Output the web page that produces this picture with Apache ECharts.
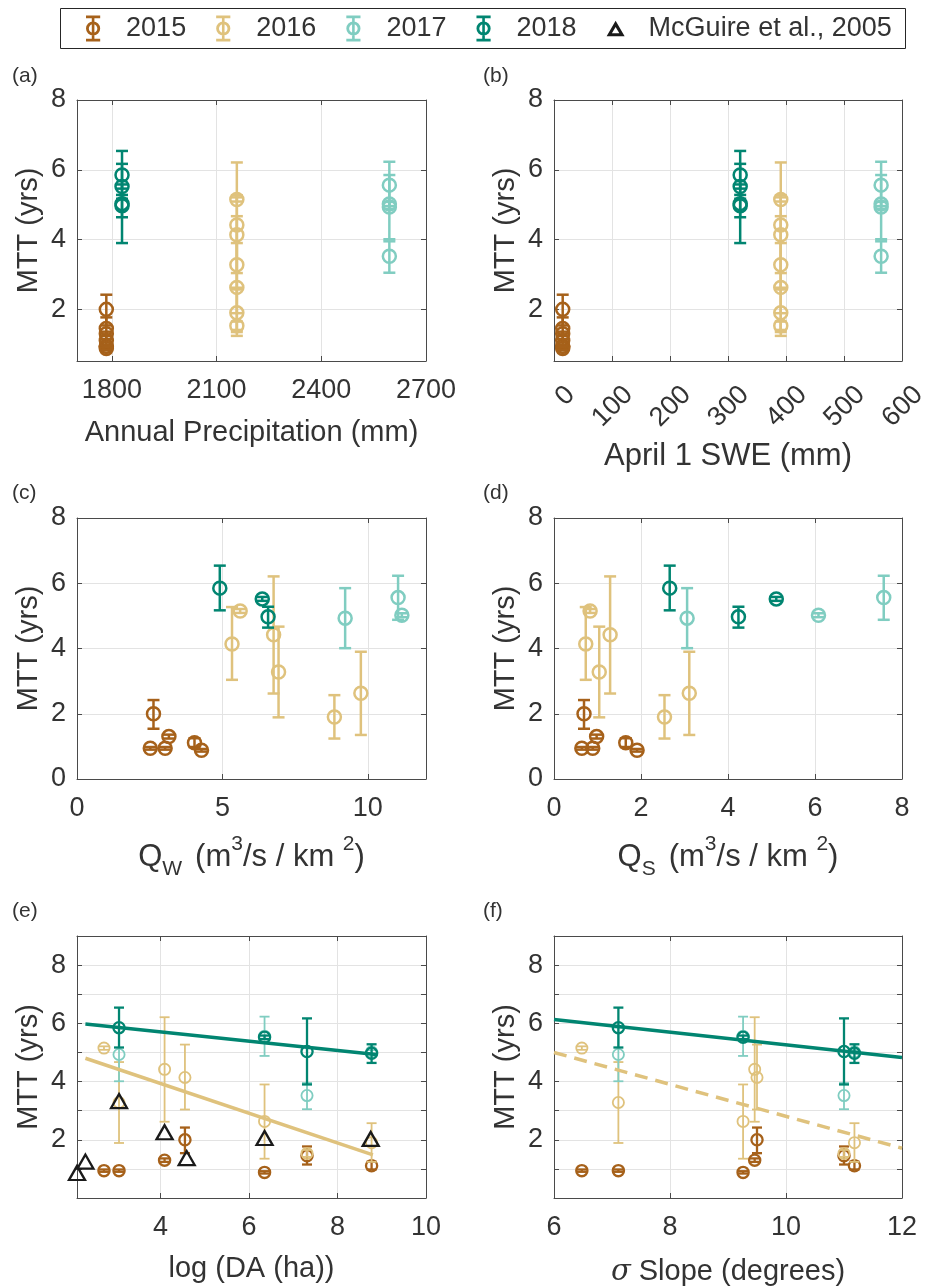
<!DOCTYPE html>
<html><head><meta charset="utf-8">
<script src="https://cdn.jsdelivr.net/npm/echarts@6/dist/echarts.min.js"></script>
<style>html,body{margin:0;padding:0;background:#fff}#c{width:934px;height:1286px}</style>
</head><body><div id="c"></div>
<script>
// ---------------- DATA ----------------
const years = ['2015', '2016', '2017', '2018'];
// site order for 2015/2016: S1..S7 ; for 2017/2018: S2,S5,S6,S7
const siteIdx2015 = [0, 1, 2, 3, 4, 5, 6];
const siteIdx2016 = [0, 1, 2, 3, 4, 5, 6];
const siteIdx2017 = [1, 4, 5, 6];
const siteIdx2018 = [1, 4, 5, 6];

const mtt2015 = [0.94, 0.94, 1.30, 2.00, 0.88, 1.45, 1.11];
const lo2015  = [0.90, 0.90, 1.24, 1.54, 0.84, 1.15, 0.98];
const hi2015  = [0.98, 0.98, 1.36, 2.42, 0.92, 1.77, 1.25];

const mtt2016 = [5.15, 3.28, 4.42, 4.14, 2.63, 1.53, 1.90];
const lo2016  = [5.09, 1.89, 2.62, 3.04, 1.35, 1.41, 1.24];
const hi2016  = [5.21, 4.67, 6.21, 5.27, 3.90, 1.65, 2.57];

const mtt2017 = [4.93, 5.56, 3.52, 5.02];
const lo2017  = [4.01, 4.88, 3.05, 4.96];
const hi2017  = [5.85, 6.23, 3.95, 5.08];

const mtt2018 = [5.85, 5.52, 5.03, 4.97];
const lo2018  = [5.17, 5.46, 3.90, 4.64];
const hi2018  = [6.54, 5.58, 6.17, 5.28];

const precipByYear = [1784, 2158, 2595, 1829];   // mm
const sweByYear    = [15, 391, 564, 321];         // mm

const qw2015 = [2.52, 3.03, 3.16, 2.63, 4.28, null, 4.04];
const qw2016 = [5.61, 6.93, 6.76, 5.33, 9.76, null, 8.85];
const qw2017 = [9.22, 11.04, null, 11.17];
const qw2018 = [4.91, 6.37, null, 6.57];

const qs2015 = [0.64, 0.89, 0.98, 0.69, 1.91, null, 1.65];
const qs2016 = [0.83, 1.04, 1.29, 0.73, 3.11, null, 2.54];
const qs2017 = [3.06, 7.58, null, 6.08];
const qs2018 = [2.66, 5.11, null, 4.24];

const siteLogDA = [2.72, 3.06, 4.09, 4.55, 6.35, 7.31, 8.77];
const siteSlope = [6.48, 7.11, 9.46, 9.50, 9.26, 11.00, 11.18];

const mcgX = [2.11, 2.30, 3.06, 4.09, 4.59, 6.35, 8.75];
const mcgY = [0.86, 1.25, 3.33, 2.26, 1.37, 2.06, 2.03];

const trendE2018X = [2.30, 8.87], trendE2018Y = [5.98, 4.93];
const trendE2016X = [2.30, 8.80], trendE2016Y = [4.80, 1.48];
const trendF2018X = [6, 12],      trendF2018Y = [6.13, 4.83];
const trendF2016X = [6, 12],      trendF2016Y = [5.00, 1.71];

const xTicksA = [1800, 2100, 2400, 2700];

// ---------------- STYLE ----------------
const FONT = "'Liberation Sans', Arial, Helvetica, sans-serif";
const TXT = '#333333';
const AX = '#4a4a4a';
const GRIDC = '#e3e3e3';
const COLORS = ['#A6611A', '#DFC27D', '#80CDC1', '#018571'];

const grids = [
  {left: 77, top: 100, width: 349, height: 261},
  {left: 554, top: 100, width: 348, height: 261},
  {left: 77, top: 518, width: 349, height: 261},
  {left: 554, top: 518, width: 348, height: 261},
  {left: 77, top: 936, width: 349, height: 262},
  {left: 554, top: 936, width: 348, height: 262}
].map(g => Object.assign({outerBoundsMode: 'none', containLabel: false}, g));

const isInt = v => Math.abs(v - Math.round(v)) < 1e-9;
const fmtEvenPos = v => (isInt(v) && Math.round(v) % 2 === 0 && v > 0.9) ? String(Math.round(v)) : '';
const fmtEven = v => (isInt(v) && Math.round(v) % 2 === 0) ? String(Math.round(v)) : '';

function scaleOpts(o) {
  const s = {min: o.min, max: o.max};
  if (o.interval != null) s.interval = o.interval;
  if (o.splitNumber != null) s.splitNumber = o.splitNumber;
  return s;
}
function axisBase(g, pos, o, main) {
  const a = Object.assign({
    type: 'value', gridIndex: g, position: pos,
    axisLine: {show: true, onZero: false, lineStyle: {color: AX, width: 1}},
    axisTick: {show: true, inside: true, length: 5, lineStyle: {color: AX, width: 1}},
    splitLine: {show: false},
    axisLabel: {show: false},
    nameMoveOverlap: false
  }, scaleOpts(o));
  if (main) {
    a.splitLine = {show: true, lineStyle: {color: GRIDC, width: 1}};
    a.axisLabel = Object.assign({show: true, color: TXT, fontSize: 27, fontFamily: FONT,
      margin: (pos === 'bottom') ? 16 : 11, formatter: o.fmt}, o.label || {});
    a.name = o.name;
    a.nameLocation = 'middle';
    a.nameGap = o.nameGap;
    a.nameTextStyle = Object.assign({color: TXT, fontSize: 29, fontFamily: FONT}, o.nameStyle || {});
  }
  return a;
}

const yAB = {min: 0.52, max: 8, splitNumber: 4, fmt: fmtEvenPos, name: 'MTT (yrs)', nameGap: 34};
const yCD = {min: 0, max: 8, interval: 2, fmt: v => String(v), name: 'MTT (yrs)', nameGap: 34};
const yEF = {min: 0, max: 9, interval: 1, fmt: fmtEvenPos, name: 'MTT (yrs)', nameGap: 34};

const subStyle = {fontSize: 21, fontFamily: FONT, color: TXT, lineHeight: 21, verticalAlign: 'bottom'};
const supStyle = {fontSize: 21, fontFamily: FONT, color: TXT, lineHeight: 21, verticalAlign: 'top'};
const mStyle = {fontSize: 31, fontFamily: FONT, color: TXT, lineHeight: 46};
const spStyle = {fontSize: 31, fontFamily: FONT, color: TXT, lineHeight: 46, width: 13};

const xOpts = [
  {min: 1700, max: 2700, splitNumber: 3, fmt: v => (xTicksA.indexOf(Math.round(v)) >= 0 && isInt(v)) ? String(v) : '',
   name: 'Annual Precipitation (mm)', nameGap: 57},
  {min: 0, max: 600, interval: 100, fmt: v => String(v), name: 'April 1 SWE (mm)', nameGap: 80,
   nameStyle: {fontSize: 31},
   label: {rotate: 45, align: 'right', verticalAlign: 'top', padding: [10, 0, 0, 0], margin: 13}},
  {min: 0, max: 12, interval: 5, fmt: v => (v % 5 === 0) ? String(v) : '', nameGap: 55,
   name: '{m|Q}{sub|W}{sp| }{m|(m}{sup|3}{m|/s / km }{sup|2}{m|)}',
   nameStyle: {rich: {m: mStyle, sub: subStyle, sup: supStyle, sp: spStyle}}},
  {min: 0, max: 8, interval: 2, fmt: v => String(v), nameGap: 55,
   name: '{m|Q}{sub|S}{sp| }{m|(m}{sup|3}{m|/s / km }{sup|2}{m|)}',
   nameStyle: {rich: {m: mStyle, sub: subStyle, sup: supStyle, sp: spStyle}}},
  {min: 2.11, max: 10, splitNumber: 4, fmt: fmtEven, name: 'log (DA (ha))', nameGap: 56},
  {min: 6, max: 12, interval: 2, fmt: v => String(v), nameGap: 56,
   name: '{it|σ}{m| Slope (degrees)}',
   nameStyle: {rich: {it: {fontSize: 29, fontFamily: "'DejaVu Serif', 'Liberation Serif', serif", fontStyle: 'italic', color: TXT, lineHeight: 36},
                      m: {fontSize: 29, fontFamily: FONT, color: TXT, lineHeight: 36}}}}
];
const yOpts = [yAB, yAB, yCD, yCD, yEF, yEF];

const xAxes = [], yAxes = [];
for (let g = 0; g < 6; g++) xAxes.push(axisBase(g, 'bottom', xOpts[g], true));
for (let g = 0; g < 6; g++) xAxes.push(axisBase(g, 'top', xOpts[g], false));
for (let g = 0; g < 6; g++) yAxes.push(axisBase(g, 'left', yOpts[g], true));
for (let g = 0; g < 6; g++) yAxes.push(axisBase(g, 'right', yOpts[g], false));

// ---------------- SERIES ----------------
function errRender(color, r, lw, capW) {
  return function (params, api) {
    const x = api.value(0), y = api.value(1), lo = api.value(2), hi = api.value(3);
    const p = api.coord([x, y]), pl = api.coord([x, lo]), ph = api.coord([x, hi]);
    const st = {stroke: color, lineWidth: lw, fill: null};
    return {type: 'group', children: [
      {type: 'line', shape: {x1: p[0], y1: pl[1], x2: p[0], y2: ph[1]}, style: st},
      {type: 'line', shape: {x1: p[0] - capW / 2, y1: pl[1], x2: p[0] + capW / 2, y2: pl[1]}, style: st},
      {type: 'line', shape: {x1: p[0] - capW / 2, y1: ph[1], x2: p[0] + capW / 2, y2: ph[1]}, style: st},
      {type: 'circle', shape: {cx: p[0], cy: p[1], r: r}, style: {stroke: color, lineWidth: lw, fill: 'rgba(0,0,0,0)'}}
    ]};
  };
}

const yearData = [
  {mtt: mtt2015, lo: lo2015, hi: hi2015, sites: siteIdx2015, qw: qw2015, qs: qs2015},
  {mtt: mtt2016, lo: lo2016, hi: hi2016, sites: siteIdx2016, qw: qw2016, qs: qs2016},
  {mtt: mtt2017, lo: lo2017, hi: hi2017, sites: siteIdx2017, qw: qw2017, qs: qs2017},
  {mtt: mtt2018, lo: lo2018, hi: hi2018, sites: siteIdx2018, qw: qw2018, qs: qs2018}
];

function xsFor(g, yi) {
  const d = yearData[yi];
  switch (g) {
    case 0: return d.mtt.map(() => precipByYear[yi]);
    case 1: return d.mtt.map(() => sweByYear[yi]);
    case 2: return d.qw;
    case 3: return d.qs;
    case 4: return d.sites.map(s => siteLogDA[s]);
    case 5: return d.sites.map(s => siteSlope[s]);
  }
}

const series = [];
for (let g = 0; g < 6; g++) {
  const small = g >= 4;
  for (let yi = 0; yi < 4; yi++) {
    const d = yearData[yi];
    const xs = xsFor(g, yi);
    const data = [];
    xs.forEach((x, i) => { if (x != null) data.push([x, d.mtt[i], d.lo[i], d.hi[i]]); });
    const lw = small ? ((yi === 1 || yi === 2) ? 1.8 : 2.3) : 2.5;
    series.push({
      type: 'custom', name: years[yi], xAxisIndex: g, yAxisIndex: g,
      renderItem: errRender(COLORS[yi], small ? 5.6 : 6.5, lw, small ? 10 : 12),
      data: data, encode: {x: 0, y: 1}, itemStyle: {color: COLORS[yi]}, silent: true, clip: false
    });
  }
}
// McGuire triangles in panel (e)
series.push({
  type: 'scatter', name: 'McGuire et al., 2005', xAxisIndex: 4, yAxisIndex: 4,
  data: mcgX.map((x, i) => [x, mcgY[i]]), symbol: 'triangle', symbolSize: [16, 14],
  itemStyle: {color: 'rgba(0,0,0,0)', borderColor: '#1a1a1a', borderWidth: 2.3, opacity: 1}, silent: true, clip: false, z: 3
});
function trend(g, xs, ys, color, dash) {
  return {type: 'line', xAxisIndex: g, yAxisIndex: g, data: xs.map((x, i) => [x, ys[i]]),
    symbol: 'none', lineStyle: {color: color, width: 3.5, type: dash || 'solid'}, silent: true, z: 4};
}
series.push(trend(4, trendE2018X, trendE2018Y, COLORS[3]));
series.push(trend(4, trendE2016X, trendE2016Y, COLORS[1]));
series.push(trend(5, trendF2018X, trendF2018Y, COLORS[3]));
series.push(trend(5, trendF2016X, trendF2016Y, COLORS[1], [13, 8]));

// ---------------- LEGEND ----------------
const EB_PATH = 'path://M0,0H12V2.4H0Z M0,19.6H12V22H0Z M4.9,0H7.1V22H4.9Z M0,11A6,6 0 1,1 12,11A6,6 0 1,1 0,11Z M2.4,11A3.6,3.6 0 1,0 9.6,11A3.6,3.6 0 1,0 2.4,11Z';
const TRI_PATH = 'path://M0,13L7.5,0L15,13Z M4.4,10.5L10.6,10.5L7.5,5.3Z';
const legendData = years.map((y, i) => ({name: y, icon: EB_PATH, itemStyle: {color: COLORS[i], borderWidth: 0, opacity: 1}}));
legendData.push({name: 'McGuire et al., 2005', icon: TRI_PATH, itemStyle: {color: '#1a1a1a', borderWidth: 0, opacity: 1}});

const panelLabels = ['(a)', '(b)', '(c)', '(d)', '(e)', '(f)'];
const labelPos = [[12, 76], [483, 76], [12, 493], [483, 493], [12, 911], [483, 911]];
const graphics = [{type: 'rect', shape: {x: 60.5, y: 8.5, width: 845, height: 40},
  style: {fill: '#fff', stroke: '#262626', lineWidth: 1}, z: 0}];
panelLabels.forEach((t, i) => graphics.push({type: 'text', x: labelPos[i][0], y: labelPos[i][1],
  style: {text: t, fontSize: 21, fontFamily: FONT, fill: TXT, verticalAlign: 'middle'}, z: 5}));

const chart = echarts.init(document.getElementById('c'), null, {renderer: 'canvas'});
chart.setOption({
  animation: false,
  backgroundColor: '#fff',
  grid: grids,
  xAxis: xAxes,
  yAxis: yAxes,
  series: series,
  legend: {
    left: 86, top: 15, padding: 0, itemWidth: 18, itemHeight: 26, itemGap: 30, selectedMode: false, z: 10,
    textStyle: {fontSize: 27, color: TXT, fontFamily: FONT, padding: [0, 0, 0, 19]},
    data: legendData
  },
  graphic: {elements: graphics}
});
</script></body></html>
